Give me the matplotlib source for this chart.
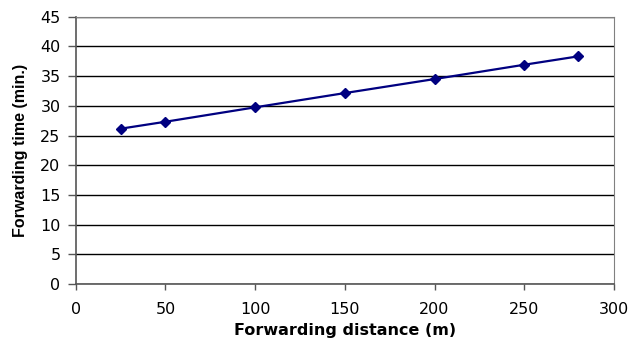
import matplotlib
matplotlib.use("Agg")
import matplotlib.pyplot as plt

distance = [25, 50, 100, 150, 200, 250, 280]
time_min = [26.15, 27.32, 29.75, 32.15, 34.51, 36.92, 38.33]
x_ticks = [0, 50, 100, 150, 200, 250, 300]
y_ticks = [0, 5, 10, 15, 20, 25, 30, 35, 40, 45]

plt.rcParams['font.family'] = ['DejaVu Sans']

fig = plt.figure(figsize=(6.31, 3.42), dpi=100)
ax = fig.add_axes([0.12, 0.1696, 0.853, 0.7814])

ax.plot(distance, time_min, color='#000080', linewidth=1.6, marker='D',
        markersize=5, markerfacecolor='#000080', markeredgecolor='#000080', zorder=3)

ax.set_xlim(0, 300)
ax.set_ylim(0, 45)
ax.set_xticks(x_ticks)
ax.set_yticks(y_ticks)
ax.yaxis.grid(True, color='black', linewidth=1)
ax.set_axisbelow(True)

for s in ['top', 'right']:
    ax.spines[s].set_color('#808080')
for s in ['left', 'bottom']:
    ax.spines[s].set_color('#555555')
    ax.spines[s].set_linewidth(1.2)

ax.tick_params(axis='both', direction='out', width=1, colors='#555555',
               labelcolor='black', labelsize=11.5)
ax.tick_params(axis='y', length=6, pad=5)
ax.tick_params(axis='x', length=4, pad=9)

ax.set_xlabel('Forwarding distance (m)', fontsize=11.5, fontweight='bold', labelpad=4)
ax.set_ylabel('Forwarding time (min.)', fontsize=11.5, fontweight='bold', labelpad=9,
              family='Liberation Sans')

fig.savefig('out.png', dpi=100)
